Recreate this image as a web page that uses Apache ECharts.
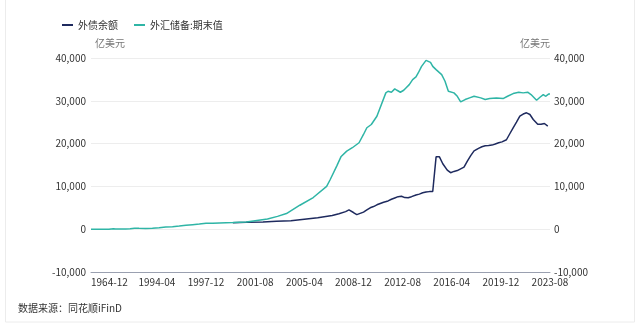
<!DOCTYPE html>
<html>
<head>
<meta charset="utf-8">
<script src="https://cdn.jsdelivr.net/npm/echarts@6/dist/echarts.min.js"></script>
<style>
  html, body { margin: 0; padding: 0; background: #fff; }
  #chart { width: 640px; height: 330px; }
</style>
</head>
<body>
<div id="chart"></div>
<script>
// Periods on the x axis: year-end to 1987, quarter-end 1988-1992, then monthly to 2023-08
const annualYears = [1964, 1987];
const quarterlyYears = [1988, 1992];
const monthlyStartYear = 1993;
const lastMonth = '2023-08';
const labelStep = 44;

const categories = [];
for (let y = annualYears[0]; y <= annualYears[1]; y++) categories.push(y + '-12');
for (let y = quarterlyYears[0]; y <= quarterlyYears[1]; y++) {
  ['03', '06', '09', '12'].forEach(m => categories.push(y + '-' + m));
}
for (let y = monthlyStartYear, done = false; !done; y++) {
  for (let m = 1; m <= 12; m++) {
    const c = y + '-' + String(m).padStart(2, '0');
    categories.push(c);
    if (c === lastMonth) { done = true; break; }
  }
}

// 外债余额 (亿美元)
const debtDates = [
  '1999-12','2000-12','2002-03','2003-03','2004-04','2005-04',
  '2006-04','2007-05','2007-11','2008-05','2008-08','2008-12','2009-03','2009-06',
  '2009-09','2009-12','2010-03','2010-06','2010-09','2010-12','2011-03','2011-07',
  '2011-10','2012-01','2012-04','2012-07','2012-10','2013-01','2013-04','2013-08',
  '2013-11','2014-02','2014-05','2014-08','2014-11','2015-02','2015-05','2015-08',
  '2015-12','2016-03','2016-06','2016-09','2016-12','2017-03','2017-06','2017-09',
  '2017-12','2018-04','2018-07','2018-10','2019-01','2019-04','2019-07','2019-10',
  '2020-01','2020-05','2020-08','2020-11','2021-02','2021-05','2021-08','2021-11',
  '2022-02','2022-05','2022-09','2022-12','2023-03','2023-06'
];
const debtValues = [
  1530, 1600, 1700, 1850, 2000, 2350,
  2700, 3200, 3600, 4100, 4500, 3900, 3400, 3700,
  4000, 4500, 5000, 5290, 5700, 6000, 6300, 6600,
  7000, 7300, 7600, 7700, 7380, 7350, 7600, 8000,
  8200, 8500, 8700, 8780, 8800, 16900, 16900, 15300,
  13800, 13200, 13500, 13700, 14100, 14500, 15900, 17200,
  18300, 18900, 19270, 19500, 19570, 19650, 19900, 20200,
  20400, 20900, 22300, 23700, 25000, 26400, 26900, 27190,
  26800, 25630, 24500, 24500, 24700, 24100
];

// 外汇储备:期末值 (亿美元)
const reserveDates = [
  '1964-12','1968-12','1972-12','1976-12','1980-12','1982-12','1984-12','1986-12',
  '1987-12','1988-12','1989-12','1990-12','1991-12','1992-12','1993-06','1993-12',
  '1994-06','1994-12','1995-06','1995-12','1996-06','1996-12','1997-06','1997-12',
  '1998-06','1998-12','1999-12','2000-12','2001-01','2001-08','2002-07','2003-04',
  '2003-12','2004-12','2005-12','2006-12','2007-03','2007-09','2008-01','2008-06',
  '2008-11','2009-05','2009-09','2009-12','2010-04','2010-09','2011-05','2011-07',
  '2011-10','2012-01','2012-03','2012-06','2012-09','2012-11','2013-02','2013-05',
  '2013-08','2013-10','2014-01','2014-05','2014-09','2014-11','2015-02','2015-07',
  '2015-10','2015-12','2016-01','2016-06','2016-09','2016-12','2017-04','2017-08',
  '2017-12','2018-06','2018-10','2019-02','2019-08','2020-02','2020-06','2020-11',
  '2021-04','2021-08','2021-12','2022-03','2022-08','2022-11','2023-02','2023-04',
  '2023-07','2023-08'
];
const reserveValues = [
  2, 2, 2, 6, -13, 70, 82, 21,
  29, 34, 55, 111, 217, 194, 190, 212,
  350, 516, 600, 736, 900, 1050, 1200, 1399,
  1405, 1450, 1547, 1656, 1700, 2000, 2400, 3000,
  3650, 5600, 7400, 10000, 11500, 14750, 17000, 18245,
  19035, 20200, 22135, 23700, 24465, 26400, 31850, 32230,
  32000, 32780, 32460, 32000, 32460, 33010, 33785, 34950,
  35570, 36500, 38050, 39450, 38980, 38050, 37280, 36115,
  34560, 33010, 32230, 31850, 31060, 29750, 30290, 30680,
  31060, 30680, 30290, 30520, 30680, 30520, 31060, 31690,
  32000, 31850, 32000, 31455, 30130, 30830, 31455, 31060,
  31610, 31600
];

const yTicks = { min: -10000, max: 40000, step: 10000 };
const unitName = '亿美元';
const seriesNames = ['外债余额', '外汇储备:期末值'];
const sourceText = '数据来源：同花顺iFinD';

const pair = (dates, values) => dates.map((d, i) => [d, values[i]]);

const FONT = '"Noto Sans CJK SC", "Noto Sans", sans-serif';
const NAVY = '#1e2a5e';
const TEAL = '#2fb5a6';
const lastIndex = categories.length - 1;

const chart = echarts.init(document.getElementById('chart'), null, { renderer: 'canvas' });

const yAxisBase = {
  type: 'value',
  min: yTicks.min,
  max: yTicks.max,
  interval: yTicks.step,
  name: unitName,
  nameGap: 10,
  axisLine: { show: false },
  axisTick: { show: false },
  axisLabel: {
    color: '#333',
    fontSize: 10,
    fontFamily: FONT,
    formatter: v => v.toLocaleString('en-US')
  }
};

chart.setOption({
  animation: false,
  textStyle: { fontFamily: FONT },
  legend: {
    left: 57,
    top: 15,
    itemWidth: 11,
    itemHeight: 2,
    itemGap: 16,
    icon: 'rect',
    textStyle: { color: '#333', fontSize: 10, fontFamily: FONT },
    data: seriesNames
  },
  grid: { left: 91, right: 90, top: 58, bottom: 58 },
  xAxis: {
    type: 'category',
    data: categories,
    boundaryGap: false,
    axisLine: { onZero: false, lineStyle: { color: '#9aa0b0', width: 1 } },
    axisTick: { show: false },
    axisLabel: {
      // labels step back from the last period; the first period keeps its own label
      interval: idx => idx === 0 || (idx >= labelStep && (lastIndex - idx) % labelStep === 0),
      margin: 5,
      color: '#333',
      fontSize: 10,
      fontFamily: FONT,
      showMinLabel: true,
      showMaxLabel: true,
      hideOverlap: false,
      alignMinLabel: 'left'
    },
    splitLine: { show: false }
  },
  yAxis: [
    Object.assign({}, yAxisBase, {
      position: 'left',
      nameLocation: 'end',
      nameTextStyle: { color: '#777', fontSize: 10, fontFamily: FONT, align: 'left', padding: [0, 0, 0, 4] },
      axisLabel: Object.assign({}, yAxisBase.axisLabel, { margin: 5 }),
      splitLine: { show: true, lineStyle: { color: '#ededed', width: 1 } }
    }),
    Object.assign({}, yAxisBase, {
      position: 'right',
      nameLocation: 'end',
      nameTextStyle: { color: '#777', fontSize: 10, fontFamily: FONT, align: 'right' },
      axisLabel: Object.assign({}, yAxisBase.axisLabel, { margin: 4 }),
      splitLine: { show: false }
    })
  ],
  series: [
    {
      name: seriesNames[0],
      type: 'line',
      yAxisIndex: 0,
      data: pair(debtDates, debtValues),
      showSymbol: false,
      itemStyle: { color: NAVY },
      lineStyle: { color: NAVY, width: 1.5 },
      z: 2
    },
    {
      name: seriesNames[1],
      type: 'line',
      yAxisIndex: 0,
      data: pair(reserveDates, reserveValues),
      showSymbol: false,
      itemStyle: { color: TEAL },
      lineStyle: { color: TEAL, width: 1.5 },
      z: 3
    }
  ],
  graphic: [
    {
      type: 'rect',
      shape: { x: 5.5, y: -5, width: 629, height: 327 },
      style: { fill: null, stroke: '#ececec', lineWidth: 1 },
      silent: true,
      z: -1
    },
    {
      type: 'text',
      left: 18,
      top: 303,
      style: { text: sourceText, fill: '#333', fontSize: 10, fontFamily: FONT }
    }
  ]
});
</script>
</body>
</html>
